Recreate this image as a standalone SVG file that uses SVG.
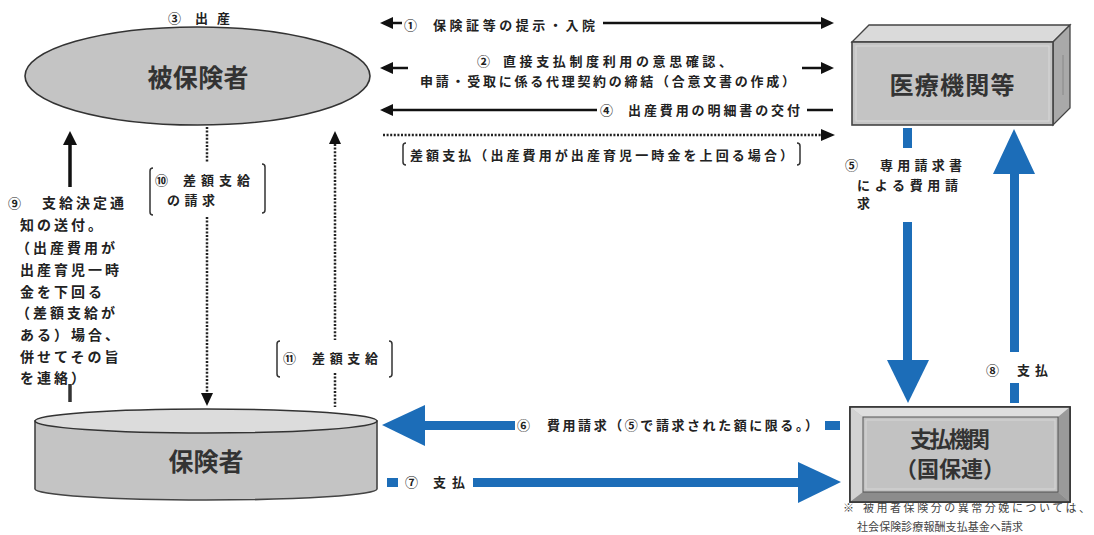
<svg xmlns="http://www.w3.org/2000/svg" width="1094" height="535" viewBox="0 0 1094 535">
<style>
.t{font-family:"Noto Sans CJK JP","Noto Sans CJK SC",sans-serif;font-weight:700;font-size:13px;fill:#222}
.s{font-size:14px;letter-spacing:3px}
.n{font-family:"Noto Sans CJK JP","Noto Sans CJK SC",sans-serif;font-weight:700;fill:#333;text-anchor:middle}
.note{font-family:"Noto Sans CJK JP","Noto Sans CJK SC",sans-serif;font-weight:400;font-size:11px;fill:#444}
.k{stroke:#111;stroke-width:2.5;fill:none}
.d{stroke:#222;stroke-width:2.5;fill:none;stroke-dasharray:2 1.6}
.br{stroke:#333;stroke-width:1.5;fill:none}
.b{fill:#1c6db8}
.ah{fill:#111}
</style>
<rect width="1094" height="535" fill="#fff"/>

<g id="node-hihokensha">
<ellipse cx="197.5" cy="76" rx="172.5" ry="49" fill="#c4c4c4" stroke="#333" stroke-width="1.6"/>
<text class="n" x="198" y="87" font-size="25" textLength="101" lengthAdjust="spacing">被保険者</text>
</g>

<g id="node-iryokikan">
<polygon points="852,42 869,25 1070,25 1053,42" fill="#dadada" stroke="#444" stroke-width="1.3"/>
<polygon points="1053,42 1070,25 1070,108 1053,125" fill="#a9a9a9" stroke="#444" stroke-width="1.3"/>
<rect x="852" y="42" width="201" height="83" fill="#c4c4c4" stroke="#444" stroke-width="1.6"/>
<rect x="856" y="46" width="193" height="75" fill="none" stroke="#d8d8d8" stroke-width="1"/>
<line x1="1063" y1="55" x2="1063" y2="95" stroke="#888" stroke-width="1"/>
<text class="n" x="952" y="94" font-size="24" textLength="125" lengthAdjust="spacing">医療機関等</text>
</g>

<g id="node-shiharaikikan">
<rect x="850" y="407" width="220" height="95" fill="#c0c0c0" stroke="#333" stroke-width="1.6"/>
<polygon points="850,407 1070,407 1058,417 863,417" fill="#dedede"/>
<polygon points="850,407 863,417 863,492 850,502" fill="#d2d2d2"/>
<polygon points="1070,407 1058,417 1058,492 1070,502" fill="#9a9a9a"/>
<polygon points="850,502 863,492 1058,492 1070,502" fill="#8c8c8c"/>
<rect x="850" y="407" width="220" height="95" fill="none" stroke="#333" stroke-width="1.6"/>
<rect x="863" y="417" width="195" height="75" fill="#c2c2c2" stroke="#555" stroke-width="1"/>
<rect x="866" y="420" width="189" height="69" fill="none" stroke="#d6d6d6" stroke-width="1"/>
<text class="n" x="950" y="447" font-size="22" textLength="80" lengthAdjust="spacing">支払機関</text>
<text class="n" x="950" y="477" font-size="22">（国保連）</text>
</g>

<g id="node-hokensha">
<path d="M35,421 L35,489 A171,11 0 0 0 377,489 L377,421 Z" fill="#c4c4c4" stroke="#444" stroke-width="1.6"/>
<ellipse cx="206" cy="421" rx="171" ry="12" fill="#dcdcdc" stroke="#333" stroke-width="1.6"/>
<text class="n" x="206" y="471" font-size="25" textLength="75" lengthAdjust="spacing">保険者</text>
</g>

<g id="connectors">
<!-- ① -->
<polygon class="ah" points="380,23 393,17 393,29"/>
<line class="k" x1="392" y1="23" x2="402" y2="23"/>
<line class="k" x1="603" y1="23" x2="822" y2="23"/>
<polygon class="ah" points="834,23 821,17 821,29"/>
<!-- ② -->
<polygon class="ah" points="380,68 393,62 393,74"/>
<line class="k" x1="392" y1="68" x2="408" y2="68"/>
<line class="k" x1="802" y1="68" x2="822" y2="68"/>
<polygon class="ah" points="834,68 821,62 821,74"/>
<!-- ④ -->
<polygon class="ah" points="380,110 393,104 393,116"/>
<line class="k" x1="392" y1="110" x2="597" y2="110"/>
<line class="k" x1="807" y1="110" x2="833" y2="110"/>
<!-- dotted 差額支払 -->
<line class="d" x1="383" y1="135" x2="822" y2="135"/>
<polygon class="ah" points="835,135 821,129 821,141"/>
<!-- ⑨ -->
<line x1="70" y1="187" x2="70" y2="142" stroke="#111" stroke-width="3.5"/>
<polygon class="ah" points="70,131 63,145 77,145"/>
<line x1="70" y1="384" x2="70" y2="402" stroke="#333" stroke-width="3.5"/>
<!-- ⑩ -->
<line class="d" x1="207" y1="127" x2="207" y2="162"/>
<line class="d" x1="207" y1="217" x2="207" y2="393"/>
<polygon class="ah" points="207,406 201,393 213,393"/>
<!-- ⑪ -->
<line class="d" x1="335" y1="144" x2="335" y2="340"/>
<polygon class="ah" points="335,131 329,144 341,144"/>
<line class="d" x1="335" y1="373" x2="335" y2="407"/>
<!-- ⑤ blue down -->
<rect class="b" x="903" y="128" width="9" height="20"/>
<rect class="b" x="903" y="222" width="9" height="139"/>
<polygon class="b" points="887,360 929,360 908,403"/>
<!-- ⑧ blue up -->
<polygon class="b" points="1014,129 993,174 1035,174"/>
<rect class="b" x="1010" y="173" width="9" height="179"/>
<rect class="b" x="1010" y="383" width="9" height="20"/>
<!-- ⑥ blue left -->
<polygon class="b" points="382,425 425,405 425,446"/>
<rect class="b" x="424" y="421" width="91" height="9"/>
<rect class="b" x="825" y="421" width="15" height="9"/>
<!-- ⑦ blue right -->
<rect class="b" x="387" y="478" width="11" height="9"/>
<rect class="b" x="473" y="478" width="327" height="9"/>
<polygon class="b" points="798,462 798,503 841,482"/>
<!-- brackets -->
<path class="br" d="M406,143 Q403,143 403,146 L403,162 Q403,165 406,165"/>
<path class="br" d="M797,143 Q800,143 800,146 L800,162 Q800,165 797,165"/>
<path class="br" d="M153,168 Q150,168 150,171 L150,212 Q150,215 153,215"/>
<path class="br" d="M262,164 Q265,164 265,167 L265,210 Q265,213 262,213"/>
<path class="br" d="M280,341 Q277,341 277,344 L277,374 Q277,377 280,377"/>
<path class="br" d="M389,341 Q392,341 392,344 L392,374 Q392,377 389,377"/>
</g>

<g id="labels">
<text class="t" x="168" y="23">③</text>
<text class="t" x="195" y="23" textLength="35" lengthAdjust="spacing">出産</text>
<text class="t" x="404" y="30">①</text>
<text class="t" x="433" y="30" textLength="162" lengthAdjust="spacing">保険証等の提示・入院</text>
<text class="t" x="477" y="66">②</text>
<text class="t" x="503" y="66" textLength="229" lengthAdjust="spacing">直接支払制度利用の意思確認、</text>
<text class="t" x="420" y="86" textLength="375" lengthAdjust="spacing">申請・受取に係る代理契約の締結（合意文書の作成）</text>
<text class="t" x="600" y="115">④</text>
<text class="t" x="628" y="115" textLength="172" lengthAdjust="spacing">出産費用の明細書の交付</text>
<text class="t" x="410" y="160" textLength="383" lengthAdjust="spacing">差額支払（出産費用が出産育児一時金を上回る場合）</text>
<text class="t" x="845" y="170">⑤</text>
<text class="t" x="880" y="170" textLength="82" lengthAdjust="spacing">専用請求書</text>
<text class="t" x="857" y="190" textLength="101" lengthAdjust="spacing">による費用請</text>
<text class="t" x="857" y="208">求</text>
<text class="t" x="517" y="430">⑥</text>
<text class="t" x="547" y="430" textLength="271" lengthAdjust="spacing">費用請求（⑤で請求された額に限る。）</text>
<text class="t" x="405" y="487">⑦</text>
<text class="t" x="433" y="487" textLength="32" lengthAdjust="spacing">支払</text>
<text class="t" x="986" y="375">⑧</text>
<text class="t" x="1017" y="375" textLength="31" lengthAdjust="spacing">支払</text>
<text class="t" x="8" y="208">⑨</text>
<text class="t s" x="42" y="208">支給決定通</text>
<text class="t s" x="20" y="230">知の送付。</text>
<text class="t s" x="16" y="253">（出産費用が</text>
<text class="t s" x="20" y="275">出産育児一時</text>
<text class="t s" x="20" y="297">金を下回る</text>
<text class="t s" x="16" y="318">（差額支給が</text>
<text class="t s" x="20" y="340">ある）場合、</text>
<text class="t s" x="20" y="362">併せてその旨</text>
<text class="t s" x="20" y="383">を連絡）</text>
<text class="t" x="155" y="185">⑩</text>
<text class="t" x="183" y="185" textLength="67" lengthAdjust="spacing">差額支給</text>
<text class="t" x="167" y="205" textLength="48" lengthAdjust="spacing">の請求</text>
<text class="t" x="283" y="363">⑪</text>
<text class="t" x="312" y="363" textLength="66" lengthAdjust="spacing">差額支給</text>
<text class="note" x="843" y="512">※</text>
<text class="note" x="863" y="512" textLength="227" lengthAdjust="spacing">被用者保険分の異常分娩については、</text>
<text class="note" x="857" y="531" textLength="166" lengthAdjust="spacing">社会保険診療報酬支払基金へ請求</text>
</g>
</svg>
